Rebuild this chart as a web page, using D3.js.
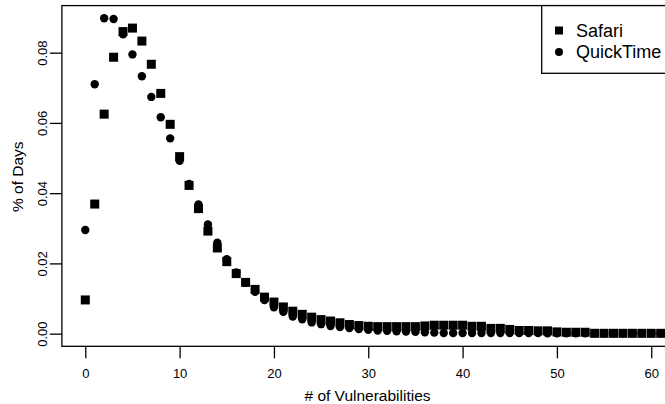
<!DOCTYPE html>
<html>
<head>
<meta charset="utf-8">
<script src="https://cdn.jsdelivr.net/npm/d3@7"></script>
<style>
  body { margin: 0; background: #fff; }
  svg { display: block; font-family: "Liberation Sans", Arial, Helvetica, sans-serif; }
</style>
</head>
<body>
<div id="chart"></div>
<script>
// # of vulnerabilities (x) and share of days for each product
var vulns = [0, 1, 2, 3, 4, 5, 6, 7, 8, 9, 10, 11, 12, 13, 14, 15, 16, 17, 18, 19,
    20, 21, 22, 23, 24, 25, 26, 27, 28, 29, 30, 31, 32, 33, 34, 35, 36, 37, 38, 39,
    40, 41, 42, 43, 44, 45, 46, 47, 48, 49, 50, 51, 52, 53, 54, 55, 56, 57, 58, 59,
    60, 61, 62];

var safari = [0.0096, 0.0369, 0.0625, 0.0787, 0.0860, 0.0870, 0.0833, 0.0767, 0.0684, 0.0596,
    0.0504, 0.0422, 0.0356, 0.0292, 0.0244, 0.0205, 0.0171, 0.0146, 0.0126, 0.0104,
    0.0090, 0.0076, 0.0064, 0.0055, 0.0047, 0.0040, 0.0036, 0.0031, 0.0026, 0.0023,
    0.0021, 0.0020, 0.0020, 0.0020, 0.0020, 0.0020, 0.0022, 0.0024, 0.0024, 0.0024,
    0.0024, 0.0021, 0.0021, 0.0015, 0.0015, 0.0012, 0.0009, 0.0009, 0.0008, 0.0008,
    0.0005, 0.0004, 0.0004, 0.0004, 0.0001, 0.0001, 0.0001, 0.0001, 0.0001, 0.0001,
    0.0001, 0.0001, 0.0001];

var quicktime = [0.0295, 0.0710, 0.0898, 0.0896, 0.0852, 0.0795, 0.0733, 0.0674, 0.0616, 0.0556,
    0.0492, 0.0426, 0.0368, 0.0311, 0.0259, 0.0212, 0.0174, 0.0145, 0.0119, 0.0096,
    0.0075, 0.0062, 0.0049, 0.0041, 0.0032, 0.0027, 0.0022, 0.0019, 0.0016, 0.0013,
    0.0011, 0.0009, 0.0008, 0.0007, 0.0006, 0.0005, 0.0004, 0.0003, 0.0002, 0.0002,
    0.0002, 0.0002, 0.0002, 0.0002, 0.0002, 0.0002, 0.0002, 0.0002, 0.0002, 0.0001,
    0.0001, 0.0001, 0.0001, 0.0001, 0.0001, 0.0001, 0.0001, 0.0001, 0.0001, 0.0001,
    0.0001, 0.0001, 0.0001];

var xTicks = [0, 10, 20, 30, 40, 50, 60];
var yTicks = [0, 0.02, 0.04, 0.06, 0.08];
var seriesNames = ['Safari', 'QuickTime'];

var svgWidth = 665;
var svgHeight = 404;

var svg = d3.select('#chart')
    .append('svg')
    .attr('width', svgWidth)
    .attr('height', svgHeight);

// R-style scales: data range padded by 4% on each side
var x = d3.scaleLinear().domain([-2.48, 64.48]).range([61.9, 693.5]);
var y = d3.scaleLinear().domain([-0.0036, 0.0934]).range([346.3, 5.6]);

var plotTop = y(0.0934), plotBottom = y(-0.0036);
var plotLeft = x(-2.48), plotRight = x(64.48);

// plot box
svg.append('rect')
    .attr('x', plotLeft)
    .attr('y', plotTop)
    .attr('width', plotRight - plotLeft)
    .attr('height', plotBottom - plotTop)
    .attr('fill', 'none')
    .attr('stroke', '#000')
    .attr('stroke-width', 1.3);

// bottom axis
var xAxis = svg.append('g')
    .attr('transform', `translate(0, ${plotBottom})`)
    .call(d3.axisBottom(x).tickValues(xTicks).tickSize(12).tickFormat(d3.format('d')));
xAxis.select('.domain').remove();
xAxis.selectAll('line').attr('stroke', '#000').attr('stroke-width', 1.3);
xAxis.selectAll('text')
    .attr('y', 31.4)
    .attr('dy', 0)
    .attr('fill', '#000')
    .style('font-size', '13px')
    .style('font-family', '"Liberation Sans", Arial, sans-serif');

// left axis with rotated labels
var yAxis = svg.append('g')
    .attr('transform', `translate(${plotLeft}, 0)`)
    .call(d3.axisLeft(y).tickValues(yTicks).tickSize(12).tickFormat(d3.format('.2f')));
yAxis.select('.domain').remove();
yAxis.selectAll('line').attr('stroke', '#000').attr('stroke-width', 1.3);
yAxis.selectAll('text')
    .attr('x', 0)
    .attr('dy', 0)
    .attr('text-anchor', 'middle')
    .attr('transform', `translate(${46.7 - plotLeft}, 0) rotate(-90)`)
    .attr('fill', '#000')
    .style('font-size', '13px')
    .style('font-family', '"Liberation Sans", Arial, sans-serif');

// axis titles
svg.append('text')
    .attr('x', 367.5)
    .attr('y', 400.5)
    .attr('text-anchor', 'middle')
    .style('font-size', '15.5px')
    .text('# of Vulnerabilities');

svg.append('text')
    .attr('transform', 'translate(23, 176.7) rotate(-90)')
    .attr('text-anchor', 'middle')
    .style('font-size', '15.5px')
    .text('% of Days');

// points
var sq = 9;
var pts = svg.append('g');

pts.selectAll('rect.safari')
    .data(vulns)
    .enter()
    .append('rect')
    .attr('class', 'safari')
    .attr('x', (d, i) => x(d) - sq / 2)
    .attr('y', (d, i) => y(safari[i]) - sq / 2)
    .attr('width', sq)
    .attr('height', sq)
    .attr('fill', '#000');

pts.selectAll('circle.qt')
    .data(vulns)
    .enter()
    .append('circle')
    .attr('class', 'qt')
    .attr('cx', d => x(d))
    .attr('cy', (d, i) => y(quicktime[i]))
    .attr('r', 4.2)
    .attr('fill', '#000');

// legend
var legend = svg.append('g');
legend.append('rect')
    .attr('x', 541.7)
    .attr('y', plotTop)
    .attr('width', 200)
    .attr('height', 73.3 - plotTop)
    .attr('fill', '#fff')
    .attr('stroke', '#000')
    .attr('stroke-width', 1.3);

legend.append('rect')
    .attr('x', 559 - 4)
    .attr('y', 30.5 - 4)
    .attr('width', 8)
    .attr('height', 8)
    .attr('fill', '#000');

legend.append('circle')
    .attr('cx', 559)
    .attr('cy', 52)
    .attr('r', 4)
    .attr('fill', '#000');

legend.selectAll('text.leg')
    .data(seriesNames)
    .enter()
    .append('text')
    .attr('class', 'leg')
    .attr('x', 576)
    .attr('y', (d, i) => i === 0 ? 36.7 : 58.3)
    .style('font-size', '18px')
    .text(d => d);
</script>
</body>
</html>
